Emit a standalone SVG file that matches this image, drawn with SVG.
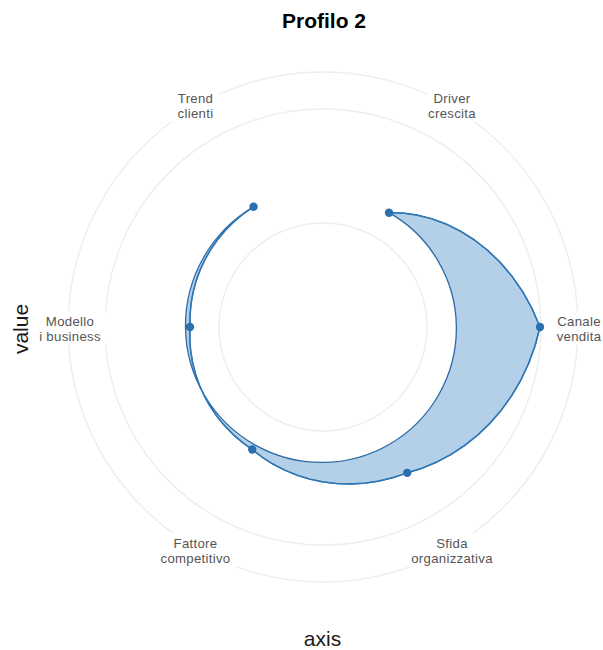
<svg xmlns="http://www.w3.org/2000/svg" width="603" height="650" viewBox="0 0 603 650">
  <style>
    .grid { fill: none; stroke: #eeeeee; stroke-width: 1.5; }
    .lbl { font-family: "Liberation Sans", Arial, sans-serif; font-size: 13.2px; letter-spacing: 0.3px; fill: #555555; text-anchor: middle; }
    .lblbg { fill: #ffffff; }
    .title { font-family: "Liberation Sans", Arial, sans-serif; font-size: 21px; font-weight: bold; fill: #000000; text-anchor: middle; }
    .axtitle { font-family: "Liberation Sans", Arial, sans-serif; font-size: 21px; fill: #1a1a1a; text-anchor: middle; }
    .area { fill: #b4d0e8; stroke: #2c6ba6; stroke-width: 1.3; stroke-linejoin: round; fill-rule: nonzero; }
    .trace { fill: none; stroke: #2f78b8; stroke-width: 1.5; stroke-linejoin: round; stroke-linecap: round; }
    .pt { fill: #2b70ad; }
  </style>
  <rect width="603" height="650" fill="#ffffff"/>

  <text class="title" x="324" y="28">Profilo 2</text>

  <!-- radial grid, centre (323,327) -->
  <g id="grid">
    <circle class="grid" cx="323" cy="327" r="104"/>
    <circle class="grid" cx="323" cy="327" r="218"/>
    <circle class="grid" cx="323" cy="327" r="255"/>
  </g>

  <!-- axis labels on white plates -->
  <g id="label-trend">
    <rect class="lblbg" x="172" y="88" width="47" height="34"/>
    <text class="lbl" x="195.5" y="103">Trend</text>
    <text class="lbl" x="195.5" y="118">clienti</text>
  </g>
  <g id="label-driver">
    <rect class="lblbg" x="427" y="88" width="51" height="34"/>
    <text class="lbl" x="452" y="103">Driver</text>
    <text class="lbl" x="452" y="118">crescita</text>
  </g>
  <g id="label-canale">
    <rect class="lblbg" x="552" y="311" width="51" height="34"/>
    <text class="lbl" x="579" y="326">Canale</text>
    <text class="lbl" x="579" y="341">vendita</text>
  </g>
  <g id="label-sfida">
    <rect class="lblbg" x="410" y="533" width="84" height="34"/>
    <text class="lbl" x="452" y="548">Sfida</text>
    <text class="lbl" x="452" y="563">organizzativa</text>
  </g>
  <g id="label-fattore">
    <rect class="lblbg" x="154" y="533" width="83" height="34"/>
    <text class="lbl" x="195.5" y="548">Fattore</text>
    <text class="lbl" x="195.5" y="563">competitivo</text>
  </g>
  <g id="label-modello">
    <rect class="lblbg" x="34" y="311" width="72" height="34"/>
    <text class="lbl" x="70" y="326">Modello</text>
    <text class="lbl" x="70" y="341">i business</text>
  </g>

  <!-- profile: polygon in polar coordinates, closing edge wraps back round the long way -->
  <g id="connectors">
    <path class="area" d="M389,212.68 L402.78,213.07 L416.96,215.03 L431.37,218.63 L445.82,223.94 L460.14,230.97 L474.12,239.75 L487.57,250.26 L500.29,262.47 L512.08,276.34 L522.75,291.78 L532.12,308.7 L540,327 L535.14,345.56 L528.73,363.28 L520.87,380.02 L511.69,395.68 L501.32,410.15 L489.88,423.35 L477.53,435.21 L464.41,445.66 L450.67,454.67 L436.45,462.21 L421.91,468.26 L407.2,472.84 L393.22,477.59 L379.06,481.03 L364.85,483.17 L350.68,484.01 L336.7,483.59 L323,481.95 L309.69,479.13 L296.87,475.18 L284.64,470.18 L273.07,464.18 L262.25,457.27 L252.25,449.54 L242.25,442.33 L232.96,434.31 L224.44,425.56 L216.77,416.14 L209.99,406.13 L204.14,395.63 L199.25,384.7 L195.36,373.46 L192.47,361.97 L190.62,350.34 L189.8,338.65 L190,327 L190.02,315.36 L191.06,303.73 L193.1,292.19 L196.17,280.84 L200.23,269.75 L205.26,259.02 L211.24,248.74 L218.11,238.98 L225.82,229.82 L234.35,221.35 L243.61,213.62 L253.55,206.71 A138.2,138.2 0 0 0 185.48,327 A136.8,136.8 0 0 0 254.93,444.9 A135.4,135.4 0 0 0 390.38,443.71 A134.1,134.1 0 0 0 456.38,327 A132.7,132.7 0 0 0 389,212.68 Z"/>
    <path class="trace" d="M389,212.68 L402.78,213.07 L416.96,215.03 L431.37,218.63 L445.82,223.94 L460.14,230.97 L474.12,239.75 L487.57,250.26 L500.29,262.47 L512.08,276.34 L522.75,291.78 L532.12,308.7 L540,327 L535.14,345.56 L528.73,363.28 L520.87,380.02 L511.69,395.68 L501.32,410.15 L489.88,423.35 L477.53,435.21 L464.41,445.66 L450.67,454.67 L436.45,462.21 L421.91,468.26 L407.2,472.84 L393.22,477.59 L379.06,481.03 L364.85,483.17 L350.68,484.01 L336.7,483.59 L323,481.95 L309.69,479.13 L296.87,475.18 L284.64,470.18 L273.07,464.18 L262.25,457.27 L252.25,449.54 L242.25,442.33 L232.96,434.31 L224.44,425.56 L216.77,416.14 L209.99,406.13 L204.14,395.63 L199.25,384.7 L195.36,373.46 L192.47,361.97 L190.62,350.34 L189.8,338.65 L190,327 L190.02,315.36 L191.06,303.73 L193.1,292.19 L196.17,280.84 L200.23,269.75 L205.26,259.02 L211.24,248.74 L218.11,238.98 L225.82,229.82 L234.35,221.35 L243.61,213.62 L253.55,206.71"/>
  </g>

  <!-- data points -->
  <g id="points">
    <circle id="pt-driver" class="pt" cx="389" cy="212.68" r="4.2"/>
    <circle id="pt-canale" class="pt" cx="540" cy="327" r="4.2"/>
    <circle id="pt-sfida" class="pt" cx="407.2" cy="472.84" r="4.2"/>
    <circle id="pt-fattore" class="pt" cx="252.25" cy="449.54" r="4.2"/>
    <circle id="pt-modello" class="pt" cx="190" cy="327" r="4.2"/>
    <circle id="pt-trend" class="pt" cx="253.55" cy="206.71" r="4.2"/>
  </g>

  <text class="axtitle" x="322.5" y="646">axis</text>
  <text class="axtitle" transform="translate(28,329) rotate(-90)">value</text>
</svg>
